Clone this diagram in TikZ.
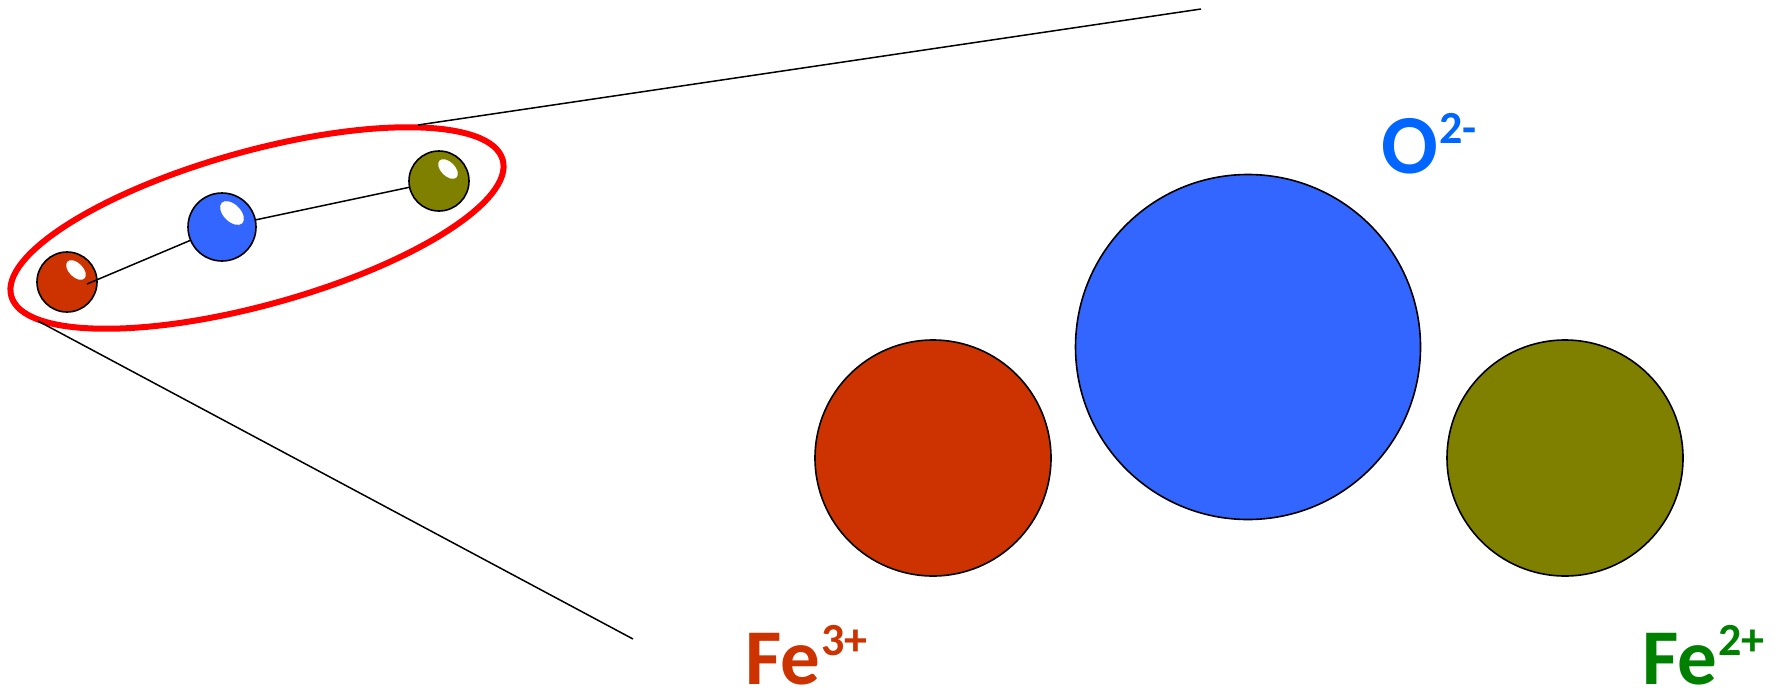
\documentclass[tikz,border=0pt]{standalone}
\usepackage{fontspec}
\setmainfont{Carlito}[Numbers=Lining]
\usetikzlibrary{shapes.geometric}
\definecolor{rust}{HTML}{CC3300}
\definecolor{royal}{HTML}{3366FF}
\definecolor{olivebrown}{HTML}{808000}
\definecolor{oxblue}{HTML}{0066FF}
\definecolor{fegreen}{HTML}{008000}
\begin{document}
\begin{tikzpicture}[x=0.5pt,y=-0.5pt,
    ball/.style={circle,draw=black,line width=0.8pt,inner sep=0pt},
    shine/.style={ellipse,fill=white,inner sep=0pt,rotate=-45},
    link/.style={line width=0.75pt},
    ion/.style={font=\fontsize{39.5}{40}\selectfont\bfseries,anchor=base west,inner sep=0pt},
    chg/.style={font=\fontsize{23}{24}\selectfont\bfseries,anchor=base west,inner sep=0pt}]
  \useasboundingbox (0,0) rectangle (1787,691);
  \node[ball,fill=rust,minimum size=30pt] (fe3s) at (67,282) {};
  \coordinate (bondstart) at (87,284);
  \coordinate (osc) at (222,227);
  \coordinate (fe2c) at (439,181);
  \draw[link] (bondstart) -- (osc) -- (fe2c);
  \node[ball,fill=royal,minimum size=34pt] (os) at (osc) {};
  \node[ball,fill=olivebrown,minimum size=30pt] (fe2s) at (fe2c) {};
  \foreach \x/\y/\w/\h in {76/270/12/7, 232/213/14.5/8.5, 448/169/12/7}
    \node[shine,minimum width=\w pt,minimum height=\h pt] at (\x,\y) {};
  \node[ellipse,draw=red,line width=3pt,minimum width=255pt,minimum height=77pt,rotate=15.5] (zoomring) at (257,228) {};
  \coordinate (ringtop) at (418,125);
  \coordinate (viewtop) at (1201,9);
  \coordinate (ringbot) at (38,321);
  \coordinate (viewbot) at (633,639);
  \draw[link] (ringtop) -- (viewtop);
  \draw[link] (ringbot) -- (viewbot);
  \node[ball,fill=rust,minimum size=118pt] (fe3) at (933,458) {};
  \node[ball,fill=royal,minimum size=172.5pt] (ox) at (1248,347) {};
  \node[ball,fill=olivebrown,minimum size=118pt] (fe2) at (1565,458) {};
  \node[ion,text=rust] (fe3lab) at (745,684) {Fe};
  \node[chg,text=rust] (fe3chg) at ([yshift=14.5pt]fe3lab.base east) {3+};
  \node[ion,text=oxblue,font=\fontsize{42}{44}\selectfont\bfseries] (oxlab) at (1381,173.5) {O};
  \node[chg,text=oxblue] (oxchg) at ([yshift=15pt]oxlab.base east) {2-};
  \node[ion,text=fegreen] (fe2lab) at (1642,684) {Fe};
  \node[chg,text=fegreen] (fe2chg) at ([yshift=14.5pt]fe2lab.base east) {2+};
\end{tikzpicture}
\end{document}
